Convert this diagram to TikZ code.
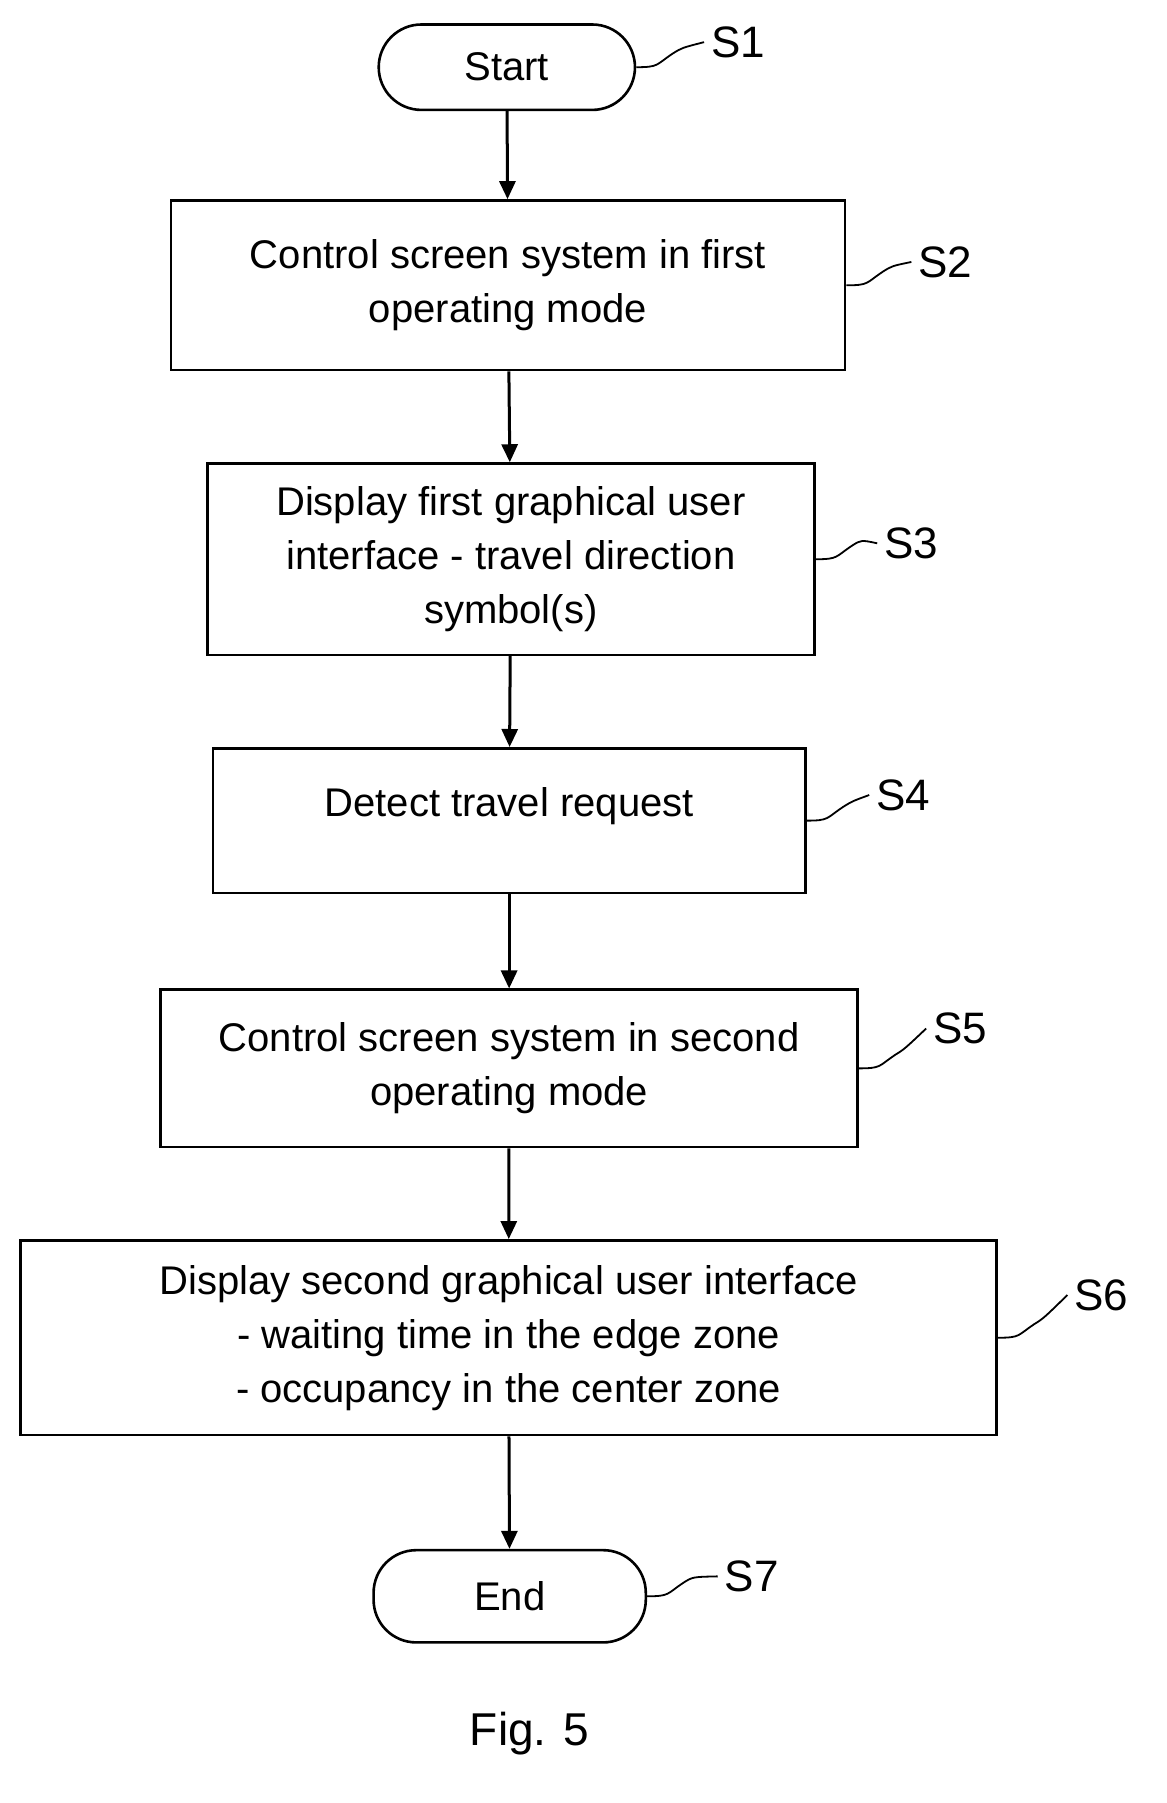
\documentclass[tikz,border=0pt]{standalone}
\usepackage{fontspec}
\setmainfont{Liberation Sans}
\usetikzlibrary{arrows.meta}
\begin{document}
\begin{tikzpicture}[x=0.02cm,y=-0.02cm,
  box/.style={draw,line width=1.3pt,inner sep=0pt,font=\fontsize{20}{27}\selectfont,align=center},
  pill/.style={box,rounded corners=0.75cm},
  lab/.style={font=\fontsize{22}{26}\selectfont},
  arr/.style={line width=1.5pt,-{Triangle[length=9pt,width=8pt]}},
  sq/.style={line width=0.9pt}]
\useasboundingbox (0,0) rectangle (1024,1583);
\node[pill,minimum width=225*0.02cm,minimum height=75*0.02cm] (s1) at (445,59) {Start};
\node[box,minimum width=592*0.02cm,minimum height=149*0.02cm] (s2) at (446,250.5) {Control screen system in first\\operating mode};
\node[box,minimum width=533*0.02cm,minimum height=168*0.02cm] (s3) at (448.5,491) {Display first graphical user\\interface - travel direction\\symbol(s)};
\node[box,minimum width=520*0.02cm,minimum height=127*0.02cm] (s4) at (447,720.5) {};
\node[font=\fontsize{20}{27}\selectfont] at (447,708) {Detect travel request};
\node[box,minimum width=612*0.02cm,minimum height=138*0.02cm] (s5) at (447,938) {Control screen system in second\\operating mode};
\node[box,minimum width=857*0.02cm,minimum height=171*0.02cm] (s6) at (446.5,1174.5) {Display second graphical user interface\\- waiting time in the edge zone\\- occupancy in the center zone};
\node[pill,minimum width=239*0.02cm,minimum height=81*0.02cm] (s7) at (447.5,1401.5) {End};
\draw[arr] (s1) -- (s2);
\draw[arr] (s2) -- (s3);
\draw[arr] (s3) -- (s4);
\draw[arr] (s4) -- (s5);
\draw[arr] (s5) -- (s6);
\draw[arr] (s6) -- (s7);
\foreach \n/\x/\y/\t in {s1/648/37/S1,s2/830/230/S2,s3/800/477/S3,s4/793/698/S4,s5/843/903/S5,s6/967/1137/S6,s7/660/1384/S7}{
  \node[lab] (l\n) at (\x,\y) {\t};
  \draw[sq] (\n.east) .. controls ++(20,0) and ++(-15,10) .. ++(32,-12) .. controls ++(8,-5) .. (l\n.west);
}
\node[font=\fontsize{23}{27}\selectfont] (fig) at (465,1522) {Fig. 5};
\end{tikzpicture}
\end{document}
